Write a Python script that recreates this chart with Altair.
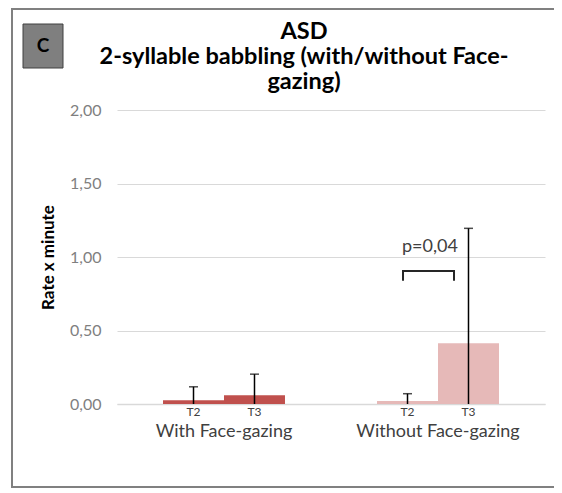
import altair as alt
import pandas as pd

# ---- data ----
groups = ["With Face-gazing", "With Face-gazing", "Without Face-gazing", "Without Face-gazing"]
times = ["T2", "T3", "T2", "T3"]
means = [0.025, 0.06, 0.02, 0.413]
errors = [0.092, 0.143, 0.05, 0.782]

group_order = ["With Face-gazing", "Without Face-gazing"]
group_colors = ["#c0504d", "#e6b9b8"]

bracket_group = ["Without Face-gazing"] * 4
bracket_time = ["T2", "T2", "T3", "T3"]
bracket_y = [0.838, 0.905, 0.905, 0.838]
bracket_order = [0, 1, 2, 3]

p_label = ["p=0,04"]
p_group = ["Without Face-gazing"]
p_y = [1.07]

y_ticks = [0, 0.5, 1.0, 1.5, 2.0]
title_lines = ["ASD", "2-syllable babbling (with/without Face-", "gazing)"]
panel_letter = "C"

FONT = "Lato"

df = pd.DataFrame({"group": groups, "time": times, "mean": means, "err": errors})
bdf = pd.DataFrame({"group": bracket_group, "time": bracket_time, "y": bracket_y, "o": bracket_order})
pdf = pd.DataFrame({"group": p_group, "label": p_label, "y": p_y})
one = pd.DataFrame({"a": [0]})

x_enc = alt.X(
    "group:N",
    sort=group_order,
    scale=alt.Scale(domain=group_order, paddingInner=0.43, paddingOuter=0.215),
    axis=alt.Axis(
        title=None, labelAngle=0, labelFontSize=18, labelColor="#404040", labelFont=FONT,
        ticks=False, domain=True, domainColor="#d9d9d9", domainWidth=1.5, labelPadding=18,
        grid=False,
    ),
)
xo_enc = alt.XOffset("time:N", scale=alt.Scale(domain=["T2", "T3"], paddingInner=0, paddingOuter=0))
y_scale = alt.Scale(domain=[0, 2])

bars = alt.Chart(df).mark_bar().encode(
    x=x_enc,
    xOffset=xo_enc,
    y=alt.Y(
        "mean:Q",
        scale=y_scale,
        axis=alt.Axis(
            values=y_ticks,
            labelExpr="replace(format(datum.value, '.2f'), '.', ',')",
            title="Rate x minute", titleFontSize=17, titleFontWeight="bold", titleFont=FONT,
            titleColor="black", titlePadding=12,
            labelFontSize=16, labelColor="#7f7f7f", labelFont=FONT, labelPadding=16,
            ticks=False, domain=False, grid=True, gridColor="#d9d9d9", gridWidth=1.2,
        ),
    ),
    color=alt.Color("group:N", scale=alt.Scale(domain=group_order, range=group_colors), legend=None),
)

err = alt.Chart(df).transform_calculate(
    lo="datum.mean - datum.err", hi="datum.mean + datum.err"
)
err_rule = err.mark_rule(clip=True, color="black", strokeWidth=1.5).encode(
    x=alt.X("group:N", sort=group_order),
    xOffset=alt.XOffset("time:N"),
    y=alt.Y("lo:Q", scale=y_scale),
    y2="hi:Q",
)
err_cap = err.mark_tick(color="black", thickness=1.5, size=9, orient="horizontal").encode(
    x=alt.X("group:N", sort=group_order),
    xOffset=alt.XOffset("time:N"),
    y=alt.Y("hi:Q", scale=y_scale),
)

t_labels = alt.Chart(df).mark_text(dy=8, fontSize=12, color="#404040", font=FONT, baseline="middle").encode(
    x=alt.X("group:N", sort=group_order),
    xOffset=alt.XOffset("time:N"),
    y=alt.datum(0),
    text="time:N",
)

main = alt.layer(bars, err_rule, err_cap, t_labels)

# bracket with its own offset scale (legs sit a little left of the bar centres)
bracket = alt.Chart(bdf).mark_line(color="#262626", strokeWidth=2).encode(
    x=alt.X("group:N", sort=group_order),
    xOffset=alt.XOffset("time:N", scale=alt.Scale(type="point", domain=["T2", "T3"], range=[26, 77], padding=0)),
    y=alt.Y("y:Q", scale=y_scale),
    order="o:Q",
)

p_text = alt.Chart(pdf).mark_text(fontSize=18, font=FONT, color="#404040", dx=-8, baseline="middle").encode(
    x=alt.X("group:N", sort=group_order),
    y=alt.Y("y:Q", scale=y_scale),
    text="label:N",
)

# outer frame (its right side runs past the picture's edge, as in the reference)
frame = alt.Chart(one).mark_rect(fill="transparent", stroke="#808080", strokeWidth=2).encode(
    x=alt.value(-105), x2=alt.value(470), y=alt.value(-101), y2=alt.value(377)
)
box = alt.Chart(one).mark_rect(fill="#7f7f7f", stroke="#404040", strokeWidth=1).encode(
    x=alt.value(-94), x2=alt.value(-54), y=alt.value(-86), y2=alt.value(-42)
)
box_text = alt.Chart(one).mark_text(fontSize=19, fontWeight="bold", font=FONT, color="black",
                                    baseline="middle").encode(
    x=alt.value(-74), y=alt.value(-64), text=alt.value(panel_letter)
)

chart = alt.layer(
    frame, main, bracket, p_text, box, box_text,
).resolve_scale(xOffset="independent").properties(
    width=428,
    height=294,
    autosize=alt.AutoSizeParams(type="none"),
    padding={"left": 109, "top": 102, "right": 9, "bottom": 84},
    title=alt.TitleParams(
        title_lines, fontSize=23.5, font=FONT, fontWeight="bold", color="black",
        anchor="middle", frame="group", dx=-27, lineHeight=25, offset=0, dy=85,
    ),
).configure_view(stroke=None)

chart.save("out.html", embed_options={"renderer": "svg", "actions": False})
